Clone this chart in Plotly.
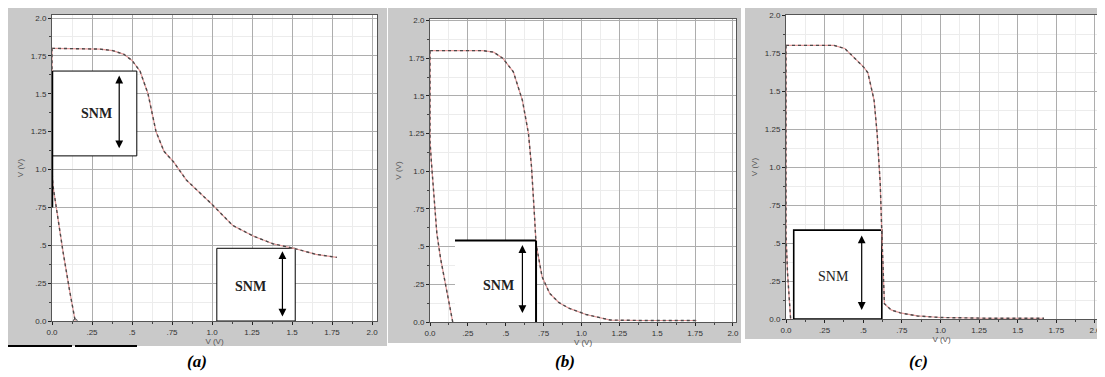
import plotly.graph_objects as go

# The page body adds an 8px margin, so the figure is drawn 8px in from the window corner.
OFF = 8
W, H = 1105 - OFF, 377 - OFF

# ---------------- data ----------------
tick_vals = [0, 0.25, 0.5, 0.75, 1.0, 1.25, 1.5, 1.75, 2.0]
tick_text = ["0.0", ".25", ".5", ".75", "1.0", "1.25", "1.5", "1.75", "2.0"]
panel_labels = ["(a)", "(b)", "(c)"]
axis_title = "V (V)"
snm_label = "SNM"

# panel (a)
a_c1_x = [0, 0.1, 0.2, 0.3, 0.38, 0.45, 0.5, 0.55, 0.6, 0.65, 0.7, 0.76, 0.84, 0.92, 1.0, 1.13, 1.26, 1.38, 1.51, 1.65, 1.78]
a_c1_y = [1.80, 1.80, 1.80, 1.795, 1.785, 1.76, 1.72, 1.65, 1.50, 1.25, 1.12, 1.05, 0.93, 0.85, 0.77, 0.63, 0.56, 0.51, 0.48, 0.44, 0.42]
a_c2_x = [0, 0, 0.005, 0.03, 0.07, 0.11, 0.145]
a_c2_y = [1.8, 1.0, 0.9, 0.72, 0.45, 0.2, 0.0]

# panel (b)
b_c1_x = [0, 0.1, 0.2, 0.3, 0.35, 0.42, 0.48, 0.55, 0.61, 0.65, 0.67, 0.69, 0.70, 0.74, 0.79, 0.85, 0.92, 1.03, 1.19, 1.4, 1.76]
b_c1_y = [1.80, 1.80, 1.80, 1.80, 1.80, 1.79, 1.75, 1.66, 1.47, 1.25, 1.03, 0.70, 0.52, 0.30, 0.19, 0.13, 0.09, 0.05, 0.013, 0.01, 0.01]
b_c2_x = [0, 0, 0.01, 0.03, 0.045, 0.07, 0.1, 0.15]
b_c2_y = [1.8, 1.2, 1.05, 0.78, 0.59, 0.42, 0.26, 0.0]

# panel (c)
c_c1_x = [0, 0.1, 0.2, 0.31, 0.38, 0.44, 0.5, 0.53, 0.57, 0.59, 0.61, 0.62, 0.63, 0.637, 0.68, 0.74, 0.85, 1.0, 1.3, 1.67]
c_c1_y = [1.8, 1.8, 1.8, 1.8, 1.78, 1.72, 1.66, 1.62, 1.44, 1.22, 0.89, 0.57, 0.24, 0.10, 0.06, 0.04, 0.02, 0.01, 0.005, 0.005]
c_c2_x = [0, 0, 0.01, 0.03]
c_c2_y = [1.8, 0.55, 0.3, 0.0]

# SNM boxes: (x0, x1, y0, y1), arrow (x, ybot, ytop), text (x, y)
a_box1 = (0.0, 0.53, 1.09, 1.65); a_arr1 = (0.42, 1.13, 1.62); a_txt1 = (0.28, 1.37)
a_box2 = (1.03, 1.52, 0.0, 0.48); a_arr2 = (1.44, 0.02, 0.46); a_txt2 = (1.24, 0.23)
b_box = (0.165, 0.70, 0.0, 0.54); b_arr = (0.61, 0.05, 0.51); b_txt = (0.45, 0.245)
c_box = (0.05, 0.62, 0.0, 0.585); c_arr = (0.49, 0.05, 0.55); c_txt = (0.31, 0.28)

# ---------------- layout geometry (window pixels) ----------------
def fx(p):
    return (p - OFF) / W

def fy(p):
    return 1 - (p - OFF) / H

plots = [
    dict(x=(52, 377), y=(321, 15), xr=2.031, yr=2.02),
    dict(x=(430, 736), y=(322, 19), xr=2.02, yr=2.01),
    dict(x=(786, 1097), y=(319, 15), xr=2.013, yr=2.0),
]
greys = [(8, 387, 6, 346), (388, 741, 6, 343), (745, 1103, 7, 339)]
captions_px = [(185, 350), (565, 350), (930, 350)]

fig = go.Figure()

curves = [
    [(a_c1_x, a_c1_y), (a_c2_x, a_c2_y)],
    [(b_c1_x, b_c1_y), (b_c2_x, b_c2_y)],
    [(c_c1_x, c_c1_y), (c_c2_x, c_c2_y)],
]

for i, pc in enumerate(curves):
    xa = "x" if i == 0 else f"x{i+1}"
    ya = "y" if i == 0 else f"y{i+1}"
    for cx, cy in pc:
        fig.add_trace(go.Scatter(x=cx, y=cy, xaxis=xa, yaxis=ya, mode="lines",
                                 line=dict(color="#e59a9a", width=1.2),
                                 hoverinfo="skip", showlegend=False))
        fig.add_trace(go.Scatter(x=cx, y=cy, xaxis=xa, yaxis=ya, mode="lines",
                                 line=dict(color="#4a4a4a", width=1.4, dash="dot"),
                                 hoverinfo="skip", showlegend=False))

# small marker at end of the left curve in (a)
fig.add_trace(go.Scatter(x=[a_c2_x[-1]], y=[a_c2_y[-1]], xaxis="x", yaxis="y", mode="markers",
                         marker=dict(size=4, color="rgba(0,0,0,0)", line=dict(color="#555", width=1)),
                         hoverinfo="skip", showlegend=False))

shapes = []
# grey panel backgrounds
for (x0, x1, y0, y1) in greys:
    shapes.append(dict(type="rect", xref="paper", yref="paper", x0=fx(x0), x1=fx(x1),
                       y0=fy(y1), y1=fy(y0), fillcolor="#c9c9c9", line=dict(width=0), layer="below"))
# white plot areas
for p in plots:
    shapes.append(dict(type="rect", xref="paper", yref="paper", x0=fx(p["x"][0]), x1=fx(p["x"][1]),
                       y0=fy(p["y"][0]), y1=fy(p["y"][1]), fillcolor="white", line=dict(width=0), layer="below"))
# legend remnants under (a)
for (x0, x1) in [(8, 72), (75, 137)]:
    shapes.append(dict(type="line", xref="paper", yref="paper", x0=fx(x0), x1=fx(x1),
                       y0=fy(346), y1=fy(346), line=dict(color="black", width=2)))


def box(xr, yr, b, lw=1.0):
    shapes.append(dict(type="rect", xref=xr, yref=yr, x0=b[0], x1=b[1], y0=b[2], y1=b[3],
                       fillcolor="white", line=dict(color="black", width=lw), layer="between"))


box("x", "y", a_box1, 1.0)
box("x", "y", a_box2, 1.0)
shapes.append(dict(type="line", xref="x", yref="y", x0=0.0, x1=0.0, y0=0.75, y1=1.65,
                   line=dict(color="black", width=2.5)))
# (b) box: white fill, thick top & right edges
shapes.append(dict(type="rect", xref="x2", yref="y2", x0=b_box[0], x1=b_box[1], y0=b_box[2], y1=b_box[3],
                   fillcolor="white", line=dict(width=0), layer="between"))
shapes.append(dict(type="line", xref="x2", yref="y2", x0=b_box[0], x1=b_box[1], y0=b_box[3], y1=b_box[3],
                   line=dict(color="black", width=2)))
shapes.append(dict(type="line", xref="x2", yref="y2", x0=b_box[1], x1=b_box[1], y0=b_box[2], y1=b_box[3],
                   line=dict(color="black", width=2)))
box("x3", "y3", c_box, 1.6)

annotations = []


def arrow(xr, yr, a):
    annotations.append(dict(xref=xr, yref=yr, axref=xr, ayref=yr, x=a[0], y=a[2], ax=a[0], ay=a[1],
                            text="", showarrow=True, arrowhead=2, arrowside="end+start",
                            arrowwidth=1.2, arrowsize=1.3, arrowcolor="black"))


def snm(xr, yr, t, bold=True):
    annotations.append(dict(xref=xr, yref=yr, x=t[0], y=t[1], showarrow=False,
                            text=f"<b>{snm_label}</b>" if bold else snm_label,
                            font=dict(family="Liberation Serif", size=14, color="#222")))


arrow("x", "y", a_arr1); snm("x", "y", a_txt1)
arrow("x", "y", a_arr2); snm("x", "y", a_txt2)
arrow("x2", "y2", b_arr); snm("x2", "y2", b_txt)
arrow("x3", "y3", c_arr); snm("x3", "y3", c_txt, bold=False)

for lab, (cx, cy) in zip(panel_labels, captions_px):
    annotations.append(dict(xref="paper", yref="paper", x=fx(cx), y=fy(cy), yanchor="top",
                            showarrow=False, text=f"<b><i>{lab}</i></b>",
                            font=dict(family="Liberation Serif", size=17, color="black")))

layout = dict(width=W, height=H, margin=dict(l=0, r=0, t=0, b=0, autoexpand=False),
              paper_bgcolor="white", plot_bgcolor="rgba(0,0,0,0)",
              shapes=shapes, annotations=annotations, showlegend=False)

tickfont = dict(family="Liberation Sans", size=8, color="#333")
titlefont = dict(family="Liberation Sans", size=8, color="#555")
for i, p in enumerate(plots):
    sx = "xaxis" if i == 0 else f"xaxis{i+1}"
    sy = "yaxis" if i == 0 else f"yaxis{i+1}"
    anchor_x = "y" if i == 0 else f"y{i+1}"
    anchor_y = "x" if i == 0 else f"x{i+1}"
    common = dict(tickvals=tick_vals, ticktext=tick_text, tickfont=tickfont,
                  showgrid=True, gridcolor="#adadad", gridwidth=1,
                  zeroline=False, showline=True, linecolor="#555", linewidth=1, mirror=True,
                  ticks="outside", ticklen=3, tickcolor="#222", automargin=False,
                  minor=dict(dtick=0.125, showgrid=True, gridcolor="#ececec", ticks="outside",
                             ticklen=2, tickcolor="#444"),
                  fixedrange=True)
    layout[sx] = dict(common, domain=[fx(p["x"][0]), fx(p["x"][1])], range=[0, p["xr"]],
                      anchor=anchor_x, title=dict(text=axis_title, font=titlefont, standoff=2))
    layout[sy] = dict(common, domain=[fy(p["y"][0]), fy(p["y"][1])], range=[0, p["yr"]],
                      anchor=anchor_y, title=dict(text=axis_title, font=titlefont, standoff=6))

fig.update_layout(**layout)
fig.write_html("out.html")
